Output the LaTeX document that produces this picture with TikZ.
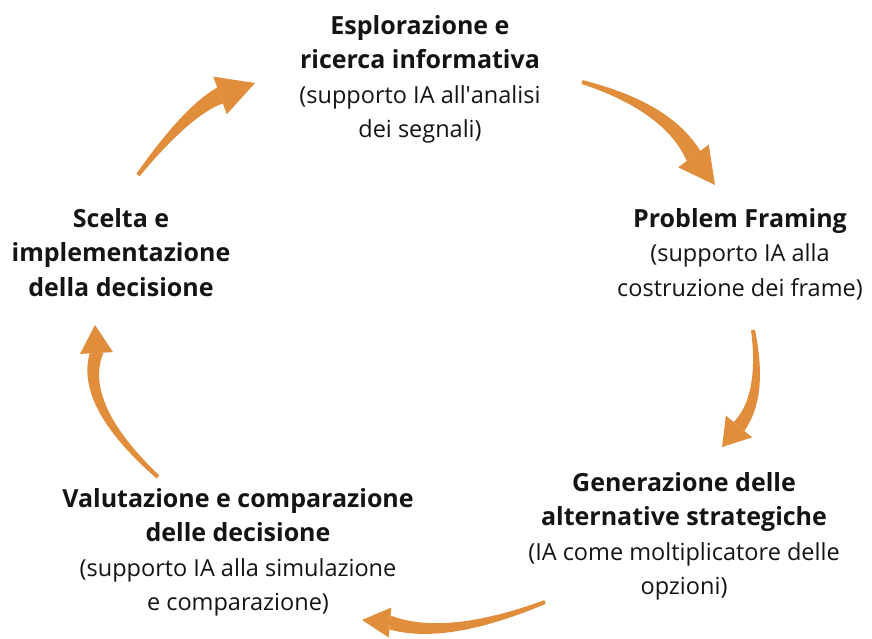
\documentclass[tikz,border=0pt]{standalone}
\usepackage{fontspec}
\setmainfont{Open Sans}
\newfontfamily\plainfont{Open Sans}
\usetikzlibrary{calc}
\definecolor{arrowcol}{RGB}{224,142,60}
\definecolor{txt}{RGB}{20,20,20}
\newcommand\taperarrow[8]{%
 \coordinate (#1T) at #2; \coordinate (#1C) at #3; \coordinate (#1B) at #4; \coordinate (#1P) at #5;
 \coordinate (#1c1) at ($(#1T)!0.6667!(#1C)$);
 \coordinate (#1c2) at ($(#1B)!0.6667!(#1C)$);
 \pgfmathsetlengthmacro\wone{#6+(#7-#6)/3}%
 \pgfmathsetlengthmacro\wtwo{#6+2*(#7-#6)/3}%
 \fill[arrowcol] ($(#1T)!#6!90:(#1C)$) .. controls ($(#1c1)!\wone!90:(#1c2)$) and ($(#1c2)!\wtwo!-90:(#1c1)$) .. ($(#1B)!#7!90:(#1P)$)
   -- ($(#1B)!#7!-90:(#1P)$) .. controls ($(#1c2)!\wtwo!90:(#1c1)$) and ($(#1c1)!\wone!-90:(#1c2)$) .. ($(#1T)!#6!-90:(#1C)$) -- cycle;
 \fill[arrowcol] ($(#1B)!#8!90:(#1P)$) -- (#1P) -- ($(#1B)!#8!-90:(#1P)$) -- cycle;
}
\newcommand\bt[1]{{\fontsize{25}{34.5}\selectfont\bfseries #1}}
\tikzset{lbl/.style={align=center, anchor=north, inner sep=0pt, text=txt,
  font=\fontsize{23.5}{34.5}\selectfont}}
\begin{document}
\begin{tikzpicture}[x=1pt,y=-1pt]
\useasboundingbox[fill=white] (0,0) rectangle (872,639);
\node[lbl] (explore) at (420,15) {\bt{Esplorazione e}\\\bt{ricerca informativa}\\(supporto IA all{\plainfont\char"27}analisi\\dei segnali)};
\node[lbl] (frame) at (740,208) {\bt{Problem Framing}\\(supporto IA alla\\costruzione dei frame)};
\node[lbl] (gen) at (684,472) {\bt{Generazione delle}\\\bt{alternative strategiche}\\(IA come moltiplicatore delle\\opzioni)};
\node[lbl] (eval) at (238,488) {\bt{Valutazione e comparazione}\\\bt{delle decisione}\\(supporto IA alla simulazione\\e comparazione)};
\node[lbl] (choice) at (121,208) {\bt{Scelta e}\\\bt{implementazione}\\\bt{della decisione}};
\taperarrow{a}{(138,175)}{(187,111)}{(220,95.5)}{(255,83)}{2pt}{8.5pt}{20pt}
\taperarrow{b}{(582,82)}{(668,107)}{(693.5,156)}{(715,185)}{2pt}{8.5pt}{19pt}
\taperarrow{c}{(753,330)}{(764,396)}{(739,426.5)}{(722,447)}{2pt}{7pt}{17pt}
\taperarrow{d}{(545,602)}{(446,641)}{(390,622.5)}{(362,620)}{2pt}{7pt}{15pt}
\taperarrow{e}{(158,477)}{(79,405)}{(96.5,353)}{(95,325)}{2pt}{7pt}{16.5pt}
\end{tikzpicture}
\end{document}
